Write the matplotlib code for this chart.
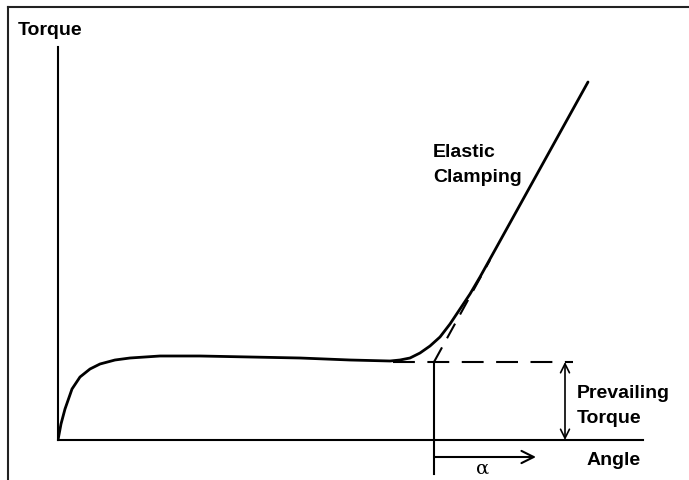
import matplotlib
matplotlib.use("Agg")
import matplotlib.pyplot as plt
from matplotlib.lines import Line2D

# torque-angle curve (angle, torque), arbitrary units
angle = [0, 3, 7, 14, 22, 32, 42, 57, 72, 102, 142, 192, 242, 292, 332,
         342, 352, 362, 372, 382, 392, 402, 412, 422, 437, 530]
torque = [0, 16, 31, 51, 63, 71, 76, 80, 82, 84, 84, 83, 82, 80, 79,
          80, 82, 87, 94, 103, 116, 131, 146, 163, 190, 358]

prevailing = 78          # prevailing torque level
alpha_start = 376        # angle where elastic line meets prevailing torque
elastic_ext = [(376, 78), (432, 180)]   # dashed extension of elastic line
arrow_x = 507            # position of prevailing torque arrow
alpha_end = 478
x_max, y_max = 585, 393

plt.rcParams['font.family'] = ['Liberation Sans', 'DejaVu Sans']

fig = plt.figure(figsize=(6.89, 4.81), dpi=100)
ax = fig.add_axes([58 / 689, 40 / 481, 585 / 689, 393 / 481])
ax.set_xlim(0, x_max)
ax.set_ylim(0, y_max)
for s in ['top', 'right']:
    ax.spines[s].set_visible(False)
for s in ['left', 'bottom']:
    ax.spines[s].set_linewidth(1.5)
ax.set_xticks([])
ax.set_yticks([])
ax.patch.set_alpha(0)

# main curve
ax.plot(angle, torque, color='black', lw=2, solid_capstyle='round')

# prevailing torque dashed line
ax.plot([335, 515], [prevailing, prevailing], color='black', lw=1.5,
        linestyle=(0, (10.5, 6)))
# extension of elastic line
ax.plot([p[0] for p in elastic_ext], [p[1] for p in elastic_ext],
        color='black', lw=1.5, linestyle=(0, (8, 5)))

# vertical marker at alpha start
ax.plot([alpha_start, alpha_start], [prevailing, -34], color='black', lw=1.5,
        clip_on=False)

# alpha arrow
ax.annotate('', xy=(alpha_end, -17), xytext=(alpha_start, -17),
            arrowprops=dict(arrowstyle='->', lw=1.5, color='black',
                            mutation_scale=22, shrinkA=0, shrinkB=0),
            annotation_clip=False)
ax.text(425, -33, 'α', fontsize=14, family='DejaVu Serif', ha='center',
        va='baseline')

# prevailing torque double arrow
ax.annotate('', xy=(arrow_x, 0), xytext=(arrow_x, prevailing),
            arrowprops=dict(arrowstyle='<->', lw=1.2, color='black',
                            mutation_scale=16, shrinkA=0, shrinkB=0))

# labels
bold = dict(fontsize=14, fontweight='bold', va='baseline')
ax.text(-40, 406, 'Torque', **bold)
ax.text(375, 284, 'Elastic', **bold)
ax.text(375, 259, 'Clamping', **bold)
ax.text(519, 43, 'Prevailing', **bold)
ax.text(519, 18, 'Torque', **bold)
ax.text(529, -24, 'Angle', **bold)
for t in ax.texts:
    t.set_clip_on(False)

# image frame (top and left)
fig.add_artist(Line2D([8 / 689, 1], [1 - 8 / 481, 1 - 8 / 481],
                      color='#222222', lw=1.5))
fig.add_artist(Line2D([8 / 689, 8 / 689], [0, 1 - 8 / 481],
                      color='#222222', lw=1.5))

fig.savefig('out.png', dpi=100)
